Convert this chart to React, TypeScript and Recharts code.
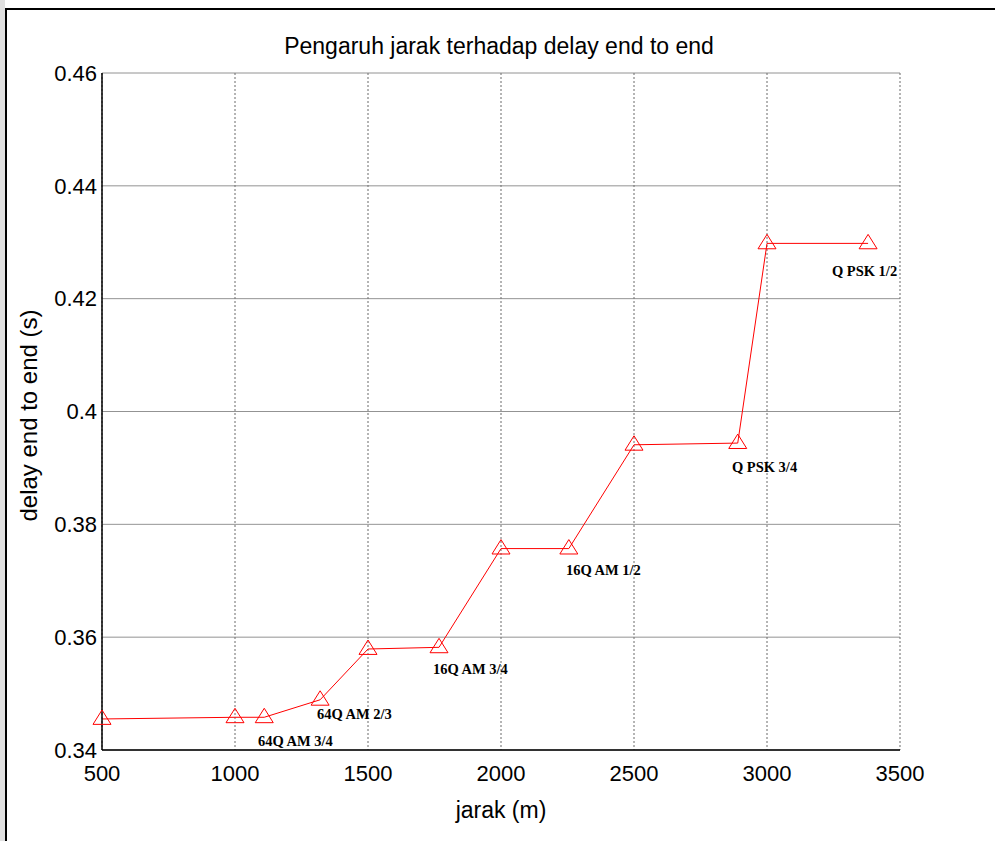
import {
  LineChart,
  Line,
  XAxis,
  YAxis,
  CartesianGrid,
  ReferenceDot,
} from 'recharts'

// jarak (m) and delay end to end (s)
const jarak = [500, 1000, 1110, 1320, 1500, 1767, 2000, 2255, 2500, 2890, 3000, 3380]
const delay = [0.3455, 0.3458, 0.3458, 0.3489, 0.3579, 0.3582, 0.3757, 0.3757, 0.3941, 0.3944, 0.4298, 0.4298]

// modulation labels, placed in data units (start of text, baseline)
const modLabels = ['64Q AM 3/4', '64Q AM 2/3', '16Q AM 3/4', '16Q AM 1/2', 'Q PSK 3/4', 'Q PSK 1/2']
const modLabelX = [1086, 1308, 1744, 2244, 2868, 3244]
const modLabelY = [0.3407, 0.3455, 0.3535, 0.371, 0.3893, 0.424]

const xTicks = [500, 1000, 1500, 2000, 2500, 3000, 3500]
const yTicks = [0.34, 0.36, 0.38, 0.4, 0.42, 0.44, 0.46]

const FONT = '"Liberation Sans", Arial, sans-serif'

const data = jarak.map((x, i) => ({ x, y: delay[i] }))

const Triangle = (props: any) => {
  const { cx, cy } = props
  if (cx == null || cy == null) return null
  const s = 9
  return (
    <polygon
      points={`${cx},${cy - s} ${cx - s},${cy + s * 0.6} ${cx + s},${cy + s * 0.6}`}
      fill="none"
      stroke="#ff0000"
      strokeWidth={1}
    />
  )
}

const blankTick = () => <g />

export default function App() {
  return (
    <div style={{ position: 'fixed', left: 0, top: 0, width: 995, height: 841, background: '#fff' }}>
      <div style={{ position: 'absolute', left: 0, top: 0, width: 5, height: 841, background: '#e0e0e0' }} />
      <div
        style={{
          position: 'absolute',
          left: 5,
          top: 8,
          width: 990,
          height: 833,
          borderLeft: '2px solid #000',
          borderTop: '2px solid #000',
        }}
      />
      <div
        style={{
          position: 'absolute',
          left: 0,
          top: 33,
          width: 998,
          textAlign: 'center',
          fontFamily: FONT,
          fontSize: 23,
          lineHeight: '26px',
          color: '#000',
        }}
      >
        Pengaruh jarak terhadap delay end to end
      </div>
      <div style={{ position: 'absolute', left: 0, top: 0 }}>
        <LineChart
          width={995}
          height={841}
          data={data}
          margin={{ top: 73, right: 95, bottom: 51, left: 0 }}
        >
          <CartesianGrid horizontal={false} stroke="#444" strokeDasharray="2 2" strokeWidth={0.8} />
          <CartesianGrid vertical={false} stroke="#777" strokeWidth={0.8} />
          <XAxis
            dataKey="x"
            type="number"
            domain={[500, 3500]}
            ticks={xTicks}
            height={40}
            axisLine={{ stroke: '#000', strokeWidth: 1.5 }}
            tickLine={false}
            tickSize={0}
            tickMargin={15}
            tick={{ fontSize: 22, fill: '#000', fontFamily: FONT }}
            label={{
              value: 'jarak (m)',
              position: 'bottom',
              offset: 12,
              style: { fontSize: 23, fill: '#000', fontFamily: FONT },
            }}
          />
          <XAxis
            xAxisId="top"
            dataKey="x"
            type="number"
            orientation="top"
            domain={[500, 3500]}
            ticks={xTicks}
            height={0}
            mirror
            axisLine={{ stroke: '#000', strokeWidth: 1.5 }}
            tickLine={{ stroke: '#000' }}
            tickSize={4}
            tick={blankTick}
          />
          <YAxis
            type="number"
            domain={[0.34, 0.46]}
            ticks={yTicks}
            width={102}
            axisLine={{ stroke: '#000', strokeWidth: 1.5 }}
            tickLine={false}
            tickSize={0}
            tickMargin={5}
            tick={{ fontSize: 22, fill: '#000', fontFamily: FONT }}
            label={{
              value: 'delay end to end (s)',
              content: (p: any) => {
                const vb = p.viewBox
                const cx = 28
                const cy = vb.y + vb.height / 2 + 4
                return (
                  <text
                    x={cx}
                    y={cy}
                    transform={`rotate(-90 ${cx} ${cy})`}
                    textAnchor="middle"
                    dominantBaseline="central"
                    fontSize={24}
                    fontFamily={FONT}
                    fill="#000"
                  >
                    delay end to end (s)
                  </text>
                )
              },
            }}
          />
          <YAxis
            yAxisId="right"
            type="number"
            orientation="right"
            domain={[0.34, 0.46]}
            ticks={yTicks}
            width={0}
            mirror
            axisLine={{ stroke: '#000', strokeWidth: 1.5 }}
            tickLine={{ stroke: '#000' }}
            tickSize={4}
            tick={blankTick}
          />
          <Line
            dataKey="y"
            stroke="#ff0000"
            strokeWidth={1}
            dot={<Triangle />}
            activeDot={false}
            isAnimationActive={false}
          />
          {modLabels.map((t, i) => (
            <ReferenceDot
              key={t}
              x={modLabelX[i]}
              y={modLabelY[i]}
              r={0}
              shape={(p: any) => (
                <text
                  x={p.cx}
                  y={p.cy}
                  fontSize={14.5}
                  fontWeight="bold"
                  fontFamily='"Liberation Serif", "Times New Roman", serif'
                  fill="#000"
                >
                  {t}
                </text>
              )}
            />
          ))}
        </LineChart>
      </div>
    </div>
  )
}
